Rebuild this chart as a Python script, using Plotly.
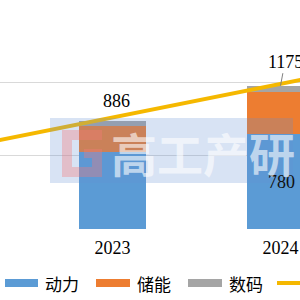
import plotly.graph_objects as go

# ---- data ----
years = ['2022', '2023', '2024', '2025']
bar_years = ['2023', '2024']
power = [630, 780]        # 动力
storage = [216, 340]      # 储能
digital = [40, 55]        # 数码
line_vals = [640, 915, 1190, 1465]
series_names = ['动力', '储能', '数码']
colors = ['#5B9BD5', '#ED7D31', '#A5A5A5']
line_color = '#F5B800'

totals = [a + b + c for a, b, c in zip(power, storage, digital)]
bar_idx = [years.index(y) for y in bar_years]

W = H = 300


def px(X):
    return X / W


def py(Y):
    return (H - Y) / H


fig = go.Figure()
for name, vals, col in zip(series_names, [power, storage, digital], colors):
    fig.add_trace(go.Bar(x=bar_years, y=vals, name=name, marker=dict(color=col, line=dict(width=0)),
                         showlegend=False))
fig.add_trace(go.Scatter(x=years, y=line_vals, mode='lines', line=dict(color=line_color, width=4),
                         showlegend=False))

serif = 'Liberation Serif'
cjk = 'Noto Sans CJK SC'

annotations = []
# total labels
annotations.append(dict(x=bar_idx[0], y=totals[0], xref='x', yref='y', text=str(totals[0]),
                        showarrow=False, yshift=20, xshift=4, font=dict(family=serif, size=18, color='#000')))
annotations.append(dict(x=bar_idx[1], y=totals[1], xref='x', yref='y', text=str(totals[1]),
                        showarrow=True, arrowhead=0, arrowwidth=1, arrowcolor='#808080', ax=4.5, ay=-24,
                        axref='pixel', ayref='pixel', standoff=0,
                        font=dict(family=serif, size=18, color='#000')))
# inside label for power 2024
annotations.append(dict(x=bar_idx[1], y=power[1] / 2, xref='x', yref='y', text=str(power[1]),
                        showarrow=False, xshift=1, font=dict(family=serif, size=18, color='#111')))

shapes = []
# watermark
shapes.append(dict(type='rect', xref='paper', yref='paper', x0=px(50), x1=px(293), y0=py(183), y1=py(118),
                   fillcolor='rgba(100,145,210,0.25)', line=dict(width=0), layer='above'))
g_pts = [(62, 130), (102, 130), (102, 140), (72, 140), (72, 167), (92, 167), (92, 158), (84, 158),
         (84, 149), (102, 149), (102, 177), (62, 177)]
path = 'M ' + ' L '.join(f'{px(x):.4f},{py(y):.4f}' for x, y in g_pts) + ' Z'
shapes.append(dict(type='path', xref='paper', yref='paper', path=path,
                   fillcolor='rgba(245,120,120,0.35)', line=dict(width=0), layer='above'))
annotations.append(dict(x=px(203), y=py(152), xref='paper', yref='paper', text='高工产研', showarrow=False,
                        font=dict(family=cjk, size=46, color='rgba(255,255,255,0.6)', weight='bold'),
                        xanchor='center', yanchor='middle'))

# custom legend
leg_y = 283
leg = [(5, 38, 43), (96, 130, 135), (188, 222, 227)]
for (x0, x1, tx), name, col in zip(leg, series_names, colors):
    shapes.append(dict(type='rect', xref='paper', yref='paper', x0=px(x0), x1=px(x1),
                       y0=py(leg_y + 4), y1=py(leg_y - 4), fillcolor=col, line=dict(width=0)))
    annotations.append(dict(x=px(tx), y=py(leg_y), xref='paper', yref='paper', text=name, showarrow=False,
                            xanchor='left', yanchor='middle', font=dict(family=cjk, size=17, color='#000')))
shapes.append(dict(type='line', xref='paper', yref='paper', x0=px(277), x1=px(310), y0=py(leg_y), y1=py(leg_y),
                   line=dict(color=line_color, width=4)))

fig.update_layout(
    width=W, height=H,
    margin=dict(l=0, r=0, t=0, b=0, pad=0),
    paper_bgcolor='white', plot_bgcolor='white',
    barmode='stack', bargap=0.6,
    showlegend=False,
    xaxis=dict(type='category', categoryorder='array', categoryarray=years,
               range=[1 - 112.5 / 168, 1 + 187.5 / 168], showgrid=False, zeroline=False, showline=False,
               ticks='', tickvals=bar_years, ticktext=bar_years, automargin=False,
               tickfont=dict(family=serif, size=18, color='#000'), ticklabeloverflow='allow',
               ticklabelstandoff=6),
    yaxis=dict(domain=[70.7 / H, 290.7 / H], range=[0, 1800], dtick=600, showgrid=True,
               gridcolor='#D9D9D9', gridwidth=1, zeroline=False, showline=False, showticklabels=False,
               ticks='', automargin=False),
    shapes=shapes, annotations=annotations,
)

fig.write_html('out.html')
